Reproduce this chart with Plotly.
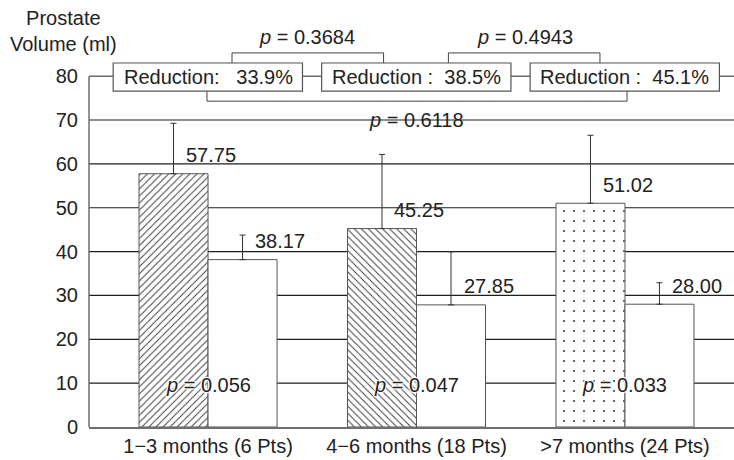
import plotly.graph_objects as go

# ---- data ----
categories = ["1\u22123 months (6 Pts)", "4\u22126 months (18 Pts)", ">7 months (24 Pts)"]
pre_values = [57.75, 45.25, 51.02]
post_values = [38.17, 27.85, 28.00]
pre_err = [11.5, 16.9, 15.5]
post_err = [5.6, 12.1, 4.9]
pre_labels = ["57.75", "45.25", "51.02"]
post_labels = ["38.17", "27.85", "28.00"]
group_p = ["0.056", "0.047", "0.033"]
reductions = ["Reduction:&nbsp;&nbsp; 33.9%", "Reduction :&nbsp; 38.5%", "Reduction :&nbsp; 45.1%"]
between_p = ["0.3684", "0.4943", "0.6118"]
y_ticks = [0, 10, 20, 30, 40, 50, 60, 70, 80]

FONT = "Liberation Sans, Arial, sans-serif"
TXT = "#222222"
GRAY = "#6e6e6e"
DARK = "#1e1e1e"

fig = go.Figure()
fig.add_trace(go.Bar(
    x=categories, y=pre_values,
    marker=dict(color="white", line=dict(color="#555555", width=1),
                pattern=dict(shape=["/", "\\", "."], size=[5, 5, 10],
                             solidity=[0.18, 0.18, 0.03],
                             fgcolor="#333333", bgcolor="white", fillmode="replace")),
    error_y=dict(type="data", symmetric=False, array=pre_err, arrayminus=[0, 0, 0],
                 color="#333333", thickness=1, width=3),
    showlegend=False,
))
fig.add_trace(go.Bar(
    x=categories, y=post_values,
    marker=dict(color="white", line=dict(color="#555555", width=1)),
    error_y=dict(type="data", symmetric=False, array=post_err, arrayminus=[0, 0, 0],
                 color="#333333", thickness=1, width=3),
    showlegend=False,
))

shapes = []
# grid lines
for v in y_ticks[1:-1]:
    shapes.append(dict(type="line", xref="paper", x0=0, x1=1, yref="y", y0=v, y1=v,
                       line=dict(color=DARK, width=1.2), layer="below"))
# top line at 80 (gray) and left axis
shapes.append(dict(type="line", xref="paper", x0=0, x1=1, yref="y", y0=80, y1=80,
                   line=dict(color=GRAY, width=1.5), layer="below"))
shapes.append(dict(type="line", xref="paper", x0=0, x1=0, yref="y", y0=0, y1=80,
                   line=dict(color=GRAY, width=1.5), layer="below"))
# brackets
shapes.append(dict(type="path", xref="x", yref="y",
                   path="M 0.115 83.0 L 0.115 85.3 L 0.842 85.3 L 0.842 83.0",
                   line=dict(color="#444444", width=1), layer="below"))
shapes.append(dict(type="path", xref="x", yref="y",
                   path="M 1.153 83.0 L 1.153 85.3 L 1.88 85.3 L 1.88 83.0",
                   line=dict(color="#444444", width=1), layer="below"))
shapes.append(dict(type="path", xref="x", yref="y",
                   path="M -0.005 76.6 L -0.005 74.3 L 2.01 74.3 L 2.01 76.6",
                   line=dict(color="#444444", width=1), layer="below"))
# reduction boxes
for i in range(3):
    shapes.append(dict(type="rect", xref="x", yref="y", x0=i - 0.455, x1=i + 0.453,
                       y0=76.6, y1=83.0, fillcolor="white",
                       line=dict(color="#555555", width=1.2), layer="above"))

annotations = []
for i in range(3):
    annotations.append(dict(x=i - 0.167 + 0.05, y=pre_values[i] + 4.2, xref="x", yref="y",
                            text=pre_labels[i], showarrow=False, xanchor="left", yanchor="middle",
                            font=dict(size=20, color=TXT, family=FONT)))
    annotations.append(dict(x=i + 0.167 + 0.05, y=post_values[i] + 4.2, xref="x", yref="y",
                            text=post_labels[i], showarrow=False, xanchor="left", yanchor="middle",
                            font=dict(size=20, color=TXT, family=FONT)))
    annotations.append(dict(x=i, y=9.6, xref="x", yref="y",
                            text="<i>p</i> = " + group_p[i], showarrow=False,
                            xanchor="center", yanchor="middle",
                            font=dict(size=20, color=TXT, family=FONT,
                                      shadow="1px 1px 1px white, -1px -1px 1px white, 1px -1px 1px white, -1px 1px 1px white")))
    annotations.append(dict(x=i, y=79.8, xref="x", yref="y", text=reductions[i],
                            showarrow=False, xanchor="center", yanchor="middle",
                            font=dict(size=20, color=TXT, family=FONT)))

annotations.append(dict(x=0.475, y=88.9, xref="x", yref="y", text="<i>p</i> = " + between_p[0],
                        showarrow=False, font=dict(size=20, color=TXT, family=FONT)))
annotations.append(dict(x=1.52, y=88.9, xref="x", yref="y", text="<i>p</i> = " + between_p[1],
                        showarrow=False, font=dict(size=20, color=TXT, family=FONT)))
annotations.append(dict(x=1.0, y=70.0, xref="x", yref="y", text="<i>p</i> = " + between_p[2],
                        showarrow=False, font=dict(size=20, color=TXT, family=FONT)))
annotations.append(dict(x=-0.039, y=0.94, xref="paper", yref="paper",
                        text="Prostate<br>Volume (ml)", showarrow=False, align="center",
                        xanchor="center", yanchor="middle",
                        font=dict(size=20, color=TXT, family=FONT)))

fig.update_layout(
    width=734, height=460,
    margin=dict(l=89, r=0, t=6, b=33),
    paper_bgcolor="white", plot_bgcolor="white",
    barmode="group", bargap=0.338, bargroupgap=0,
    font=dict(family=FONT, size=20, color=TXT),
    shapes=shapes, annotations=annotations,
    xaxis=dict(type="category", range=[-0.571, 2.523], showgrid=False, zeroline=False,
               showline=True, linecolor=GRAY, linewidth=1.5, ticks="",
               tickfont=dict(size=20, color=TXT, family=FONT), fixedrange=True),
    yaxis=dict(range=[0, 96], tickvals=y_ticks, showgrid=False, zeroline=False,
               showline=False, ticks="", ticklabelstandoff=10,
               tickfont=dict(size=20, color=TXT, family=FONT), fixedrange=True),
)

fig.write_html("out.html", config={"displayModeBar": False},
               post_script="document.body.style.margin='0';document.body.style.overflow='hidden';")
